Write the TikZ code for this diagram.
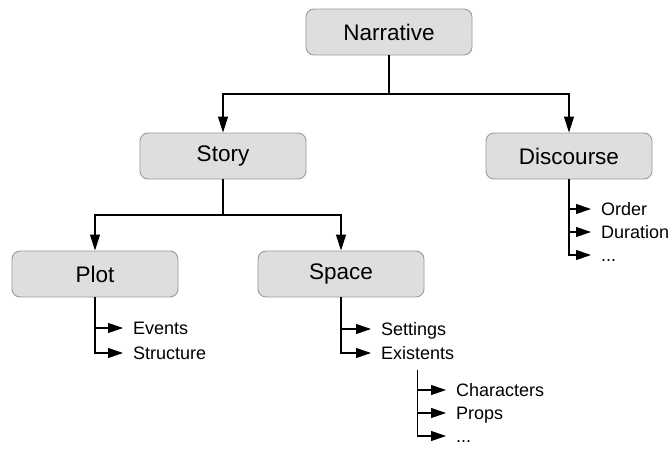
\documentclass[tikz,border=0pt]{standalone}
\usepackage{fontspec}
\setmainfont{Liberation Sans}
\usetikzlibrary{arrows.meta}
\definecolor{boxfill}{HTML}{DEDEDE}
\definecolor{boxline}{HTML}{9A9A9A}
\tikzset{
  box/.style={draw=boxline, fill=boxfill, line width=0.9pt, rounded corners=8pt,
    minimum width=166pt, minimum height=46pt, inner sep=0pt,
    font=\fontsize{22.5}{26}\selectfont},
  leaf/.style={anchor=west, inner sep=0pt, text height=12.9pt, text depth=0pt,
    font=\fontsize{18}{21}\selectfont},
  conn/.style={line width=1.1pt, -{Triangle[length=16pt,width=10pt]}},
  leafconn/.style={line width=1.1pt, -{Triangle[length=15pt,width=10pt]}}
}
\begin{document}
\begin{tikzpicture}[x=1pt,y=-1pt]
\useasboundingbox (0,0) rectangle (671,450);
\node[box] (narr) at (389,32) {Narrative};
\node[box] (story) at (223,156) {Story};
\node[box] (disc) at (569,156) {Discourse};
\node[box] (plot) at (95,274) {Plot};
\node[box] (space) at (341,274) {Space};

\coordinate (j1) at (389,94);
\coordinate (j2) at (223,215);
\draw[line width=1.1pt] (narr.south) -- (j1);
\draw[conn] (j1) -| (story.north);
\draw[conn] (j1) -| (disc.north);
\draw[line width=1.1pt] (story.south) -- (j2);
\draw[conn] (j2) -| (plot.north);
\draw[conn] (j2) -| (space.north);

% Discourse leaves
\node[leaf] (order) at (601,209) {Order};
\node[leaf] (duration) at (601,232) {Duration};
\node[leaf] (ddots) at (601,255) {...};
\draw[leafconn] (disc.south) |- ([xshift=-10pt]order.west);
\draw[leafconn] (disc.south) |- ([xshift=-10pt]duration.west);
\draw[leafconn] (disc.south) |- ([xshift=-10pt]ddots.west);

% Plot leaves
\node[leaf] (events) at (133,328) {Events};
\node[leaf] (structure) at (133,353) {Structure};
\draw[leafconn] (plot.south) |- ([xshift=-10pt]events.west);
\draw[leafconn] (plot.south) |- ([xshift=-10pt]structure.west);

% Space leaves
\node[leaf] (settings) at (381,329) {Settings};
\node[leaf] (existents) at (381,353) {Existents};
\draw[leafconn] (space.south) |- ([xshift=-10pt]settings.west);
\draw[leafconn] (space.south) |- ([xshift=-10pt]existents.west);

% Existents leaves
\coordinate (ex) at ([yshift=-10pt]existents.south);
\node[leaf] (characters) at (456,390) {Characters};
\node[leaf] (props) at (456,413) {Props};
\node[leaf] (edots) at (456,436) {...};
\draw[leafconn] (ex) |- ([xshift=-10pt]characters.west);
\draw[leafconn] (ex) |- ([xshift=-10pt]props.west);
\draw[leafconn] (ex) |- ([xshift=-10pt]edots.west);
\end{tikzpicture}
\end{document}
